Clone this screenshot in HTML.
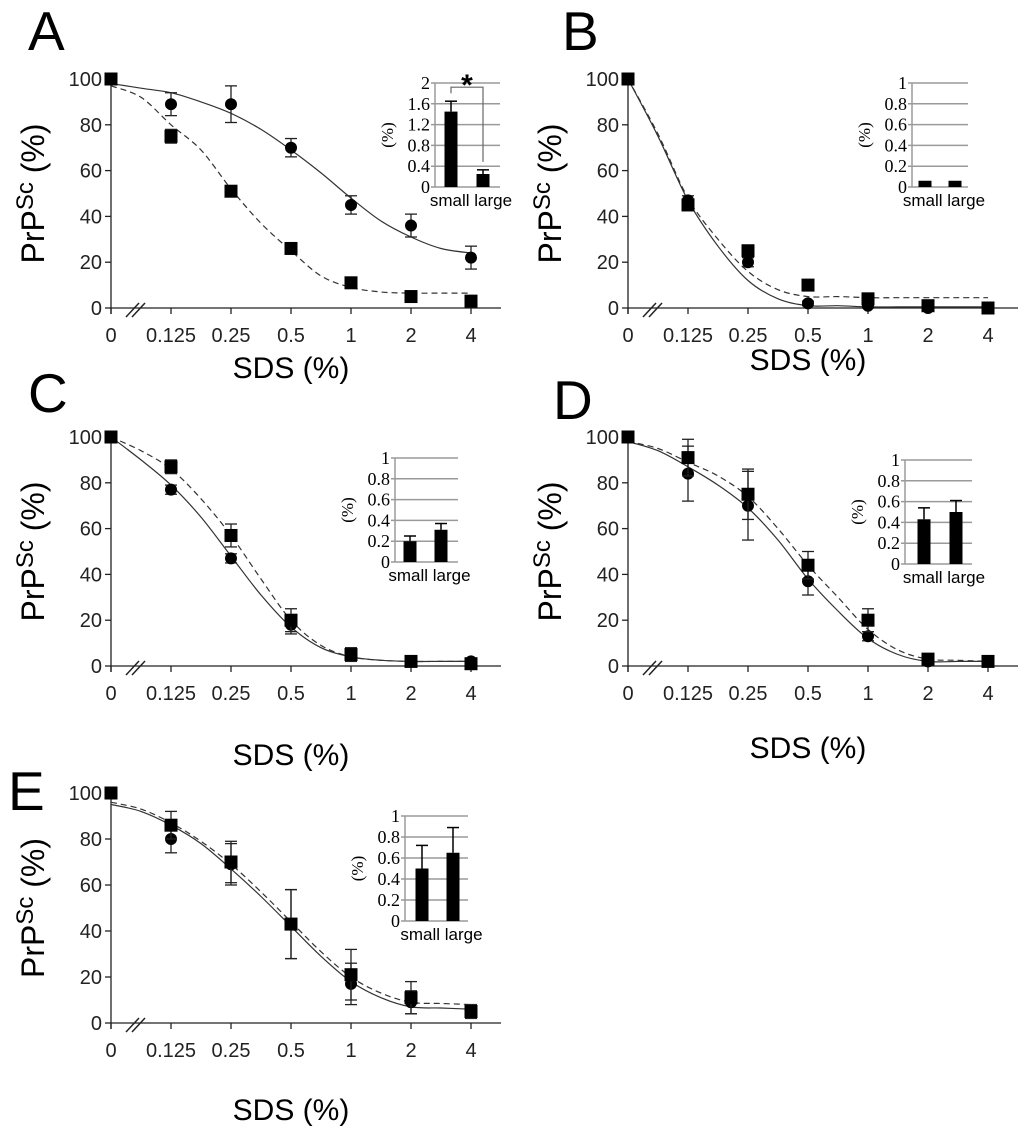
<!DOCTYPE html>
<html><head><meta charset="utf-8"><style>
html,body{margin:0;padding:0;background:#fff;}
svg{display:block;font-family:"Liberation Sans",sans-serif;}
</style></head><body>
<svg id="fig" width="1024" height="1127" viewBox="0 0 1024 1127" xmlns="http://www.w3.org/2000/svg"></svg>
<script>
// ---- data ----
const xCategories = ["0","0.125","0.25","0.5","1","2","4"];
const yTicks = [0,20,40,60,80,100];
const fitPos = [0,0.5,1,1.5,2,2.5,3,3.5,4,4.5,5,5.5,6];
const insetCats = ["small","large"];

const A_circle = [100,89,89,70,45,36,22];
const A_circleErr = [0,5,8,4,4,5,5];
const A_square = [100,75,51,26,11,5,3];
const A_squareErr = [0,3,2,1,2,1,1];
const A_fitSolid = [98,96,94,90,85,78,69,59,48,38,31,26,24];
const A_fitDashed = [97,92,80,69,52,37,25,14,9,7,6.5,6.5,6.5];
const A_inset = [1.45,0.25];
const A_insetErr = [0.2,0.08];
const A_insetTicks = ["0","0.4","0.8","1.2","1.6","2"];

const B_circle = [100,47,20,2,1,0,0];
const B_circleErr = [0,2,2,1,1,0,0];
const B_square = [100,45,25,10,4,1,0];
const B_squareErr = [0,2,2,1,1,0,0];
const B_fitSolid = [100,75,47,27,12,4,1,1,0.5,0.5,0.5,0.5,0.5];
const B_fitDashed = [100,76,48,30,16,8,5,5,4.5,4.5,4.5,4.5,4.5];
const B_inset = [0.06,0.06];
const B_insetErr = [0,0];

const C_circle = [100,77,47,18,5,2,2];
const C_circleErr = [0,2,2,4,2,0,0];
const C_square = [100,87,57,20,5,2,1];
const C_squareErr = [0,3,5,5,3,0,0];
const C_fitSolid = [100,90,79,65,48,31,17,8,4,2.5,2,2,2];
const C_fitDashed = [100,94,86,73,57,38,20,9,4,2.5,2,2,2];
const C_inset = [0.2,0.31];
const C_insetErr = [0.05,0.06];

const D_circle = [100,84,70,37,13,2,2];
const D_circleErr = [0,12,15,6,2,1,0];
const D_square = [100,91,75,44,20,3,2];
const D_squareErr = [0,8,11,6,5,1,0];
const D_fitSolid = [98,94,87,79,69,55,38,24,12,5,2,2,2];
const D_fitDashed = [98,95,89,83,74,60,44,30,16,7,3,2.5,2];
const D_inset = [0.43,0.5];
const D_insetErr = [0.11,0.11];

const E_circle = [100,80,69,43,17,9,5];
const E_circleErr = [0,6,9,15,9,5,3];
const E_square = [100,86,70,43,21,11,5];
const E_squareErr = [0,6,9,15,11,7,3];
const E_fitSolid = [95,92,86,78,67,55,42,29,18,11,7,6.5,6];
const E_fitDashed = [96,93,87,79,69,57,44,31,20,13,9,8.5,8];
const E_inset = [0.5,0.65];
const E_insetErr = [0.22,0.24];
const unitInsetTicks = ["0","0.2","0.4","0.6","0.8","1"];

// ---- drawing ----
const NS="http://www.w3.org/2000/svg";
const svg=document.getElementById('fig');
function mk(tag,attrs,parent){const e=document.createElementNS(NS,tag);for(const k in attrs)e.setAttribute(k,attrs[k]);(parent||svg).appendChild(e);return e;}

const panels=[
 {id:"a",L:"A",lx:28,ly:50,x0:111,y0:308,y100:79,xlab:378,
  c:A_circle,ce:A_circleErr,s:A_square,se:A_squareErr,fs:A_fitSolid,fd:A_fitDashed,
  inset:{ax:435,ar:500,y0:187,ytop:83,max:2,ticks:A_insetTicks,v:A_inset,e:A_insetErr,bx:[451,483],star:true}},
 {id:"b",L:"B",lx:562,ly:50,x0:628,y0:308,y100:79,xlab:370,
  c:B_circle,ce:B_circleErr,s:B_square,se:B_squareErr,fs:B_fitSolid,fd:B_fitDashed,
  inset:{ax:912,ar:968,y0:187,ytop:83,max:1,ticks:unitInsetTicks,v:B_inset,e:B_insetErr,bx:[925,955]}},
 {id:"c",L:"C",lx:28,ly:412,x0:111,y0:666,y100:437,xlab:765,
  c:C_circle,ce:C_circleErr,s:C_square,se:C_squareErr,fs:C_fitSolid,fd:C_fitDashed,
  inset:{ax:395,ar:458,y0:562,ytop:458,max:1,ticks:unitInsetTicks,v:C_inset,e:C_insetErr,bx:[410,441]}},
 {id:"d",L:"D",lx:553,ly:419,x0:628,y0:666,y100:437,xlab:758,
  c:D_circle,ce:D_circleErr,s:D_square,se:D_squareErr,fs:D_fitSolid,fd:D_fitDashed,
  inset:{ax:905,ar:972,y0:564,ytop:460,max:1,ticks:unitInsetTicks,v:D_inset,e:D_insetErr,bx:[924,956]}},
 {id:"e",L:"E",lx:8,ly:810,x0:111,y0:1023,y100:793,xlab:1120,
  c:E_circle,ce:E_circleErr,s:E_square,se:E_squareErr,fs:E_fitSolid,fd:E_fitDashed,
  inset:{ax:405,ar:468,y0:921,ytop:816,max:1,ticks:unitInsetTicks,v:E_inset,e:E_insetErr,bx:[422,453]}}
];

function smooth(pts){
  let d="M"+pts[0][0]+","+pts[0][1];
  for(let i=0;i<pts.length-1;i++){
    const p0=pts[Math.max(0,i-1)],p1=pts[i],p2=pts[i+1],p3=pts[Math.min(pts.length-1,i+2)];
    const c1x=p1[0]+(p2[0]-p0[0])/6,c1y=p1[1]+(p2[1]-p0[1])/6;
    const c2x=p2[0]-(p3[0]-p1[0])/6,c2y=p2[1]-(p3[1]-p1[1])/6;
    d+=" C"+c1x.toFixed(1)+","+c1y.toFixed(1)+" "+c2x.toFixed(1)+","+c2y.toFixed(1)+" "+p2[0].toFixed(1)+","+p2[1].toFixed(1);
  }
  return d;
}

panels.forEach(P=>{
  const g=mk('g',{});
  
  
  const X=i=>P.x0+i*60;
  const Y=v=>P.y0-(v/100)*(P.y0-P.y100);
  const lt=mk('text',{x:P.lx,y:P.ly,'font-size':55},g);lt.textContent=P.L;
  
  
  const ya=mk('line',{x1:P.x0,y1:P.y100-2,x2:P.x0,y2:P.y0+6,stroke:'#222','stroke-width':1.3},g);
  
  const xa=mk('line',{x1:P.x0,y1:P.y0,x2:P.x0+390,y2:P.y0,stroke:'#222','stroke-width':1.3},g);
  
  yTicks.forEach(v=>{
    mk('line',{x1:P.x0-6,y1:Y(v),x2:P.x0,y2:Y(v),stroke:'#222','stroke-width':1.3},g);
    const t=mk('text',{x:P.x0-9,y:Y(v)+7,'font-size':20,'text-anchor':'end',fill:'#222'},g);t.textContent=v;
    
  });
  xCategories.forEach((c,i)=>{
    mk('line',{x1:X(i),y1:P.y0,x2:X(i),y2:P.y0+6,stroke:'#222','stroke-width':1.3},g);
    const t=mk('text',{x:X(i),y:P.y0+34,'font-size':20,'text-anchor':'middle',fill:'#222'},g);t.textContent=c;
    
  });
  mk('line',{x1:P.x0+15,y1:P.y0+9,x2:P.x0+28,y2:P.y0-5,stroke:'#222','stroke-width':1.5},g);
  mk('line',{x1:P.x0+21,y1:P.y0+9,x2:P.x0+34,y2:P.y0-5,stroke:'#222','stroke-width':1.5},g);
  const xt=mk('text',{x:P.x0+180,y:P.xlab,'font-size':30,'text-anchor':'middle'},g);xt.textContent="SDS (%)";
  
  const cy=(P.y0+P.y100)/2;
  const yt=mk('text',{x:0,y:0,'font-size':32,'text-anchor':'middle',transform:'translate('+(P.x0-67)+','+cy+') rotate(-90)'},g);
  yt.innerHTML='PrP<tspan dy="-11" font-size="24">Sc</tspan><tspan dy="11"> (%)</tspan>';
  
  const fs=mk('path',{d:smooth(fitPos.map((p,i)=>[X(p),Y(P.fs[i])])),fill:'none',stroke:'#333','stroke-width':1.2},g);
  
  const fd=mk('path',{d:smooth(fitPos.map((p,i)=>[X(p),Y(P.fd[i])])),fill:'none',stroke:'#333','stroke-width':1.2,'stroke-dasharray':'6,4'},g);
  
  function err(i,v,e){ if(!e)return; const x=X(i);
    mk('line',{x1:x,y1:Y(v-e),x2:x,y2:Y(v+e),stroke:'#222','stroke-width':1.3},g);
    mk('line',{x1:x-6,y1:Y(v-e),x2:x+6,y2:Y(v-e),stroke:'#222','stroke-width':1.3},g);
    mk('line',{x1:x-6,y1:Y(v+e),x2:x+6,y2:Y(v+e),stroke:'#222','stroke-width':1.3},g);}
  P.c.forEach((v,i)=>{err(i,v,P.ce[i]);
    const m=mk('circle',{cx:X(i),cy:Y(v),r:6,fill:'#000'},g);
    });
  P.s.forEach((v,i)=>{err(i,v,P.se[i]);
    const m=mk('rect',{x:X(i)-6.5,y:Y(v)-6.5,width:13,height:13,fill:'#000'},g);
    });
  // inset
  const I=P.inset;
  const ig=mk('g',{},g);
  
  const IY=v=>I.y0-(v/I.max)*(I.y0-I.ytop);
  I.ticks.forEach((t,k)=>{const v=I.max*k/(I.ticks.length-1);
    mk('line',{x1:I.ax-4,y1:IY(v),x2:I.ar,y2:IY(v),stroke:'#9a9a9a','stroke-width':1.5},ig);
    const tx=mk('text',{x:I.ax-5,y:IY(v)+6,'font-size':18,'text-anchor':'end','font-family':'Liberation Serif, serif'},ig);tx.textContent=t;
    });
  mk('line',{x1:I.ax,y1:I.ytop,x2:I.ax,y2:I.y0,stroke:'#9a9a9a','stroke-width':1.5},ig);
  const iyt=mk('text',{x:0,y:0,'font-size':17,'text-anchor':'middle','font-family':'Liberation Serif, serif',transform:'translate('+(I.ax-42)+','+((I.y0+I.ytop)/2)+') rotate(-90)'},ig);
  iyt.textContent="(%)";
  I.v.forEach((v,k)=>{const bx=I.bx[k];
    const b=mk('rect',{x:bx-6.5,y:IY(v),width:13,height:I.y0-IY(v),fill:'#000'},ig);
    
    if(I.e[k]){const e=I.e[k];
      mk('line',{x1:bx,y1:IY(v),x2:bx,y2:IY(v+e),stroke:'#000','stroke-width':1.5},ig);
      mk('line',{x1:bx-6,y1:IY(v+e),x2:bx+6,y2:IY(v+e),stroke:'#000','stroke-width':1.5},ig);}
  });
  const lb=mk('text',{x:(I.bx[0]+I.bx[1])/2+4,y:I.y0+19,'font-size':17,'text-anchor':'middle'},ig);lb.textContent=insetCats.join(" ");
  
  if(I.star){
    const y1=IY(I.v[0]+I.e[0])-14,yb=IY(I.v[1]+I.e[1])-8;
    mk('polyline',{points:I.bx[0]+","+(y1+6)+" "+I.bx[0]+","+y1+" "+I.bx[1]+","+y1+" "+I.bx[1]+","+yb,fill:'none',stroke:'#666','stroke-width':1.2},ig);
    const st=mk('text',{x:(I.bx[0]+I.bx[1])/2,y:y1+8,'font-size':30,'text-anchor':'middle','font-weight':'bold'},ig);st.textContent="*";
    
  }
});
</script>
</body></html>
